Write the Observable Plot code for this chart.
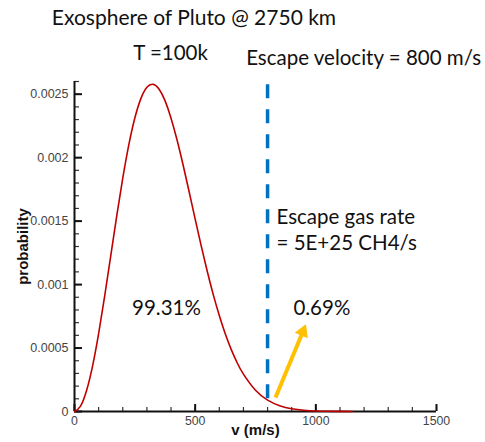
<!DOCTYPE html>
<html>
<head>
<meta charset="utf-8">
<script src="https://cdn.jsdelivr.net/npm/d3@7"></script>
<script src="https://cdn.jsdelivr.net/npm/@observablehq/plot@0.6"></script>
<style>
  html, body { margin: 0; padding: 0; background: #fff; }
</style>
</head>
<body>
<div id="chart"></div>
<script>
// Speeds (m/s) and probability density
const speed = [0, 25, 50, 75, 100, 125, 150, 175, 200, 225, 250, 275, 300, 325, 350, 375, 400, 425, 450, 475, 500, 525, 550, 575, 600, 625, 650, 675, 700, 750, 800, 850, 900, 950, 1000, 1050, 1100, 1150];
const probability = [0, 0.000042, 0.000165, 0.00036, 0.000614, 0.000909, 0.001224, 0.001541, 0.001838, 0.0021, 0.002312, 0.002465, 0.002554, 0.002578, 0.002541, 0.002449, 0.002311, 0.002139, 0.001942, 0.001731, 0.001516, 0.001305, 0.001105, 0.000921, 0.000756, 0.00061, 0.000486, 0.00038, 0.000294, 0.000167, 0.00009, 0.000046, 0.000022, 0.00001, 0.0000044, 0.0000018, 0.0000007, 0.0000003];

const escapeVelocity = 800;
const xMajorTicks = [0, 500, 1000, 1500];
const yMajorTicks = [0, 0.0005, 0.001, 0.0015, 0.002, 0.0025];
const xMinorTicks = d3.range(0, 1501, 100);
const yMinorTicks = d3.range(0, 27).map(i => i / 10000);

const titleText = "Exosphere of Pluto @ 2750 km";
const tempText = "T =100k";
const escVelText = "Escape velocity = 800 m/s";
const rateLines = ["Escape gas rate", "= 5E+25 CH4/s"];
const belowPct = "99.31%";
const abovePct = "0.69%";

const curve = speed.map((v, i) => ({v, p: probability[i]}));
const font = "Lato, 'Open Sans', sans-serif";

const chart = Plot.plot({
  width: 485,
  height: 442,
  marginLeft: 74,
  marginRight: 49,
  marginTop: 81,
  marginBottom: 31,
  style: {fontFamily: "'Liberation Sans', Arial, sans-serif", background: "#fff", overflow: "visible"},
  x: {domain: [0, 1500]},
  y: {domain: [0, 0.0026]},
  marks: [
    // minor ticks (inward)
    Plot.axisX({ticks: xMinorTicks, tickSize: -4, tickFormat: () => "", stroke: "#333", strokeWidth: 1.2, label: null}),
    Plot.axisY({ticks: yMinorTicks, tickSize: -5, tickFormat: () => "", stroke: "#333", strokeWidth: 1.2, label: null}),
    // major ticks (inward)
    Plot.axisX({ticks: xMajorTicks, tickSize: -7, tickFormat: () => "", stroke: "#111", strokeWidth: 2, label: null}),
    Plot.axisY({ticks: yMajorTicks, tickSize: -8, tickFormat: () => "", stroke: "#111", strokeWidth: 2, label: null}),
    // labels
    Plot.axisX({ticks: xMajorTicks, tickSize: 0, tickPadding: 5, fontSize: 12.3, fill: "#444", label: null,
      tickFormat: d => String(d)}),
    Plot.axisY({ticks: yMajorTicks, tickSize: 0, tickPadding: 6, fontSize: 12.5, fill: "#444", label: null,
      tickFormat: d => d === 0 ? "0" : String(+d.toPrecision(2))}),
    Plot.ruleY([0], {stroke: "#111", strokeWidth: 2}),
    Plot.ruleX([0], {stroke: "#111", strokeWidth: 2}),
    // axis titles
    Plot.text(["v (m/s)"], {frameAnchor: "bottom", dy: 23, fontSize: 15, fontWeight: "bold", fill: "#111"}),
    Plot.text(["probability"], {frameAnchor: "left", textAnchor: "middle", dx: -51, rotate: -90, fontSize: 15, fontWeight: "bold", fill: "#111"}),
    // curve
    Plot.line(curve, {x: "v", y: "p", stroke: "#c00000", strokeWidth: 1.6, curve: "natural"}),
    // escape velocity dashed line
    Plot.ruleX([escapeVelocity], {y1: 0.0001, y2: 0.00259, stroke: "#0070c0", strokeWidth: 3.5, strokeDasharray: "14,11"}),
    // arrow: shaft + filled triangular head
    Plot.link([{x1: 833, y1: 0.00011, x2: 941, y2: 0.000605}], {x1: "x1", y1: "y1", x2: "x2", y2: "y2", stroke: "#ffc000", strokeWidth: 4}),
    Plot.dot([{x: 946, y: 0.000629}], {x: "x", y: "y", symbol: "triangle", r: 4.6, rotate: 22.5, fill: "#ffc000", stroke: "#ffc000", strokeWidth: 1}),
    // annotations
    Plot.text([titleText], {x: 495, y: 0.003096, fontSize: 21, fontFamily: font, fill: "#111"}),
    Plot.text([tempText], {x: 398, y: 0.002821, fontSize: 20.5, fontFamily: font, fill: "#111"}),
    Plot.text([escVelText], {x: 1198, y: 0.002781, fontSize: 20.5, fontFamily: font, fill: "#111"}),
    Plot.text([rateLines[0]], {x: 837, y: 0.001528, textAnchor: "start", fontSize: 20.5, fontFamily: font, fill: "#111"}),
    Plot.text([rateLines[1]], {x: 837, y: 0.001324, textAnchor: "start", fontSize: 20.5, fontFamily: font, fill: "#111"}),
    Plot.text([belowPct], {x: 381, y: 0.000811, fontSize: 20.5, fontFamily: font, fill: "#111"}),
    Plot.text([abovePct], {x: 907, y: 0.000811, textAnchor: "start", fontSize: 20.5, fontFamily: font, fill: "#111"})
  ]
});
document.getElementById("chart").appendChild(chart);
</script>
</body>
</html>
